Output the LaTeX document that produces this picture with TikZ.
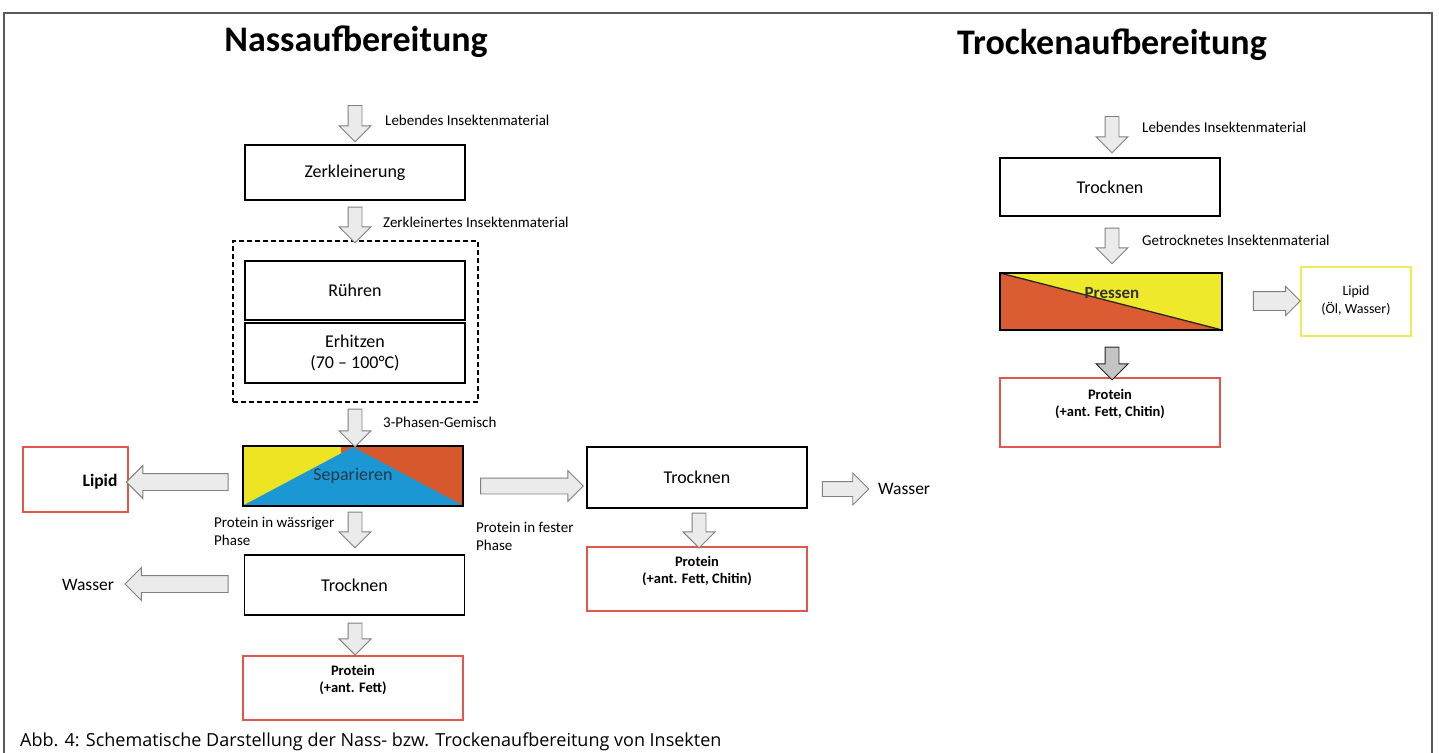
\documentclass[tikz,border=0pt]{standalone}
\usepackage{fontspec}
\setmainfont{Carlito}
\newfontfamily\capfont{Open Sans}
\usetikzlibrary{shapes.arrows,calc}
\definecolor{arrfill}{HTML}{EBEBEB}
\definecolor{arrdraw}{HTML}{808080}
\definecolor{arrdark}{HTML}{C4C4C4}
\definecolor{protred}{HTML}{E2574C}
\definecolor{lipyel}{HTML}{EFEA55}
\definecolor{sepyel}{HTML}{EDE524}
\definecolor{sepred}{HTML}{D8582E}
\definecolor{sepblue}{HTML}{1B98D4}
\definecolor{septext}{HTML}{213A4B}
\definecolor{presred}{HTML}{DB5B33}
\definecolor{presyel}{HTML}{EEE92B}
\definecolor{framegray}{HTML}{5A5A5A}
\newcommand{\barrow}[3][]{\path let \p1=(#2), \p2=(#3), \n1={atan2(\y2-\y1,\x2-\x1)}, \n2={veclen(\x2-\x1,\y2-\y1)} in node[barr, minimum height=\n2, rotate=\n1, #1] at ($(#2)!0.5!(#3)$) {};}
\begin{document}
\begin{tikzpicture}[x=1pt,y=-1pt,
  box/.style={draw=black, line width=1.4pt, minimum width=220pt, minimum height=60pt, inner sep=0pt, font=\fontsize{18}{21}\selectfont, align=center},
  redbox/.style={draw=protred, line width=1.2pt, inner sep=0pt},
  lab/.style={font=\fontsize{15}{18}\selectfont, anchor=west, inner sep=0pt, align=left},
  prot/.style={font=\bfseries\fontsize{14.5}{17}\selectfont, align=center, inner sep=0pt},
  title/.style={font=\bfseries\fontsize{36}{40}\selectfont, inner sep=0pt},
  barr/.style={single arrow, draw=arrdraw, fill=arrfill, line width=0.9pt, single arrow head indent=0pt, single arrow head extend=9pt, inner xsep=0pt, inner ysep=6.5pt},
  harr/.style={inner ysep=8pt, single arrow head extend=8pt},
  darr/.style={draw=black!85, fill=arrdark}]
\useasboundingbox (0,0) rectangle (1439,752);
\draw[framegray, line width=1.3pt] (4,770) -- (4,13) -- (1432,13) -- (1432,770);

% titles
\node[title] (t1) at (356,42) {Nassaufbereitung};
\node[title] (t2) at (1112,45) {Trockenaufbereitung};

% ---------- Nassaufbereitung ----------
\node[box, minimum height=55pt] (zerk) at (355,172.5) {Zerkleinerung};
\node[draw, line width=1.4pt, dash pattern=on 5pt off 3pt, minimum width=245pt, minimum height=161pt, inner sep=0pt] (mix) at (355.5,321.5) {};
\node[box, minimum height=59pt] (ruehr) at (355,290.5) {Rühren};
\node[box] (erh) at (355,353) {Erhitzen\\(70 – 100°C)};

\fill[sepyel] (243,446) rectangle (341,506);
\fill[sepred] (341,446) rectangle (463,506);
\fill[sepblue] (244,505) -- (353,447) -- (462,505) -- cycle;
\node[box, text=septext] (sep) at (353,476) {Separieren};

\node[redbox, minimum width=105pt, minimum height=65pt] (lipL) at (75.5,479.5) {};
\node[font=\bfseries\fontsize{17.5}{20}\selectfont, inner sep=0pt] (lipLt) at (100,482) {Lipid};

\node[box, minimum height=61pt] (trR) at (697,477.5) {Trocknen};
\node[redbox, minimum width=220pt, minimum height=64pt] (prR) at (697,579) {};
\node[prot] (prRt) at (697,571.5) {Protein\\(+ant. Fett, Chitin)};
\node[font=\fontsize{17.5}{20}\selectfont, anchor=west, inner sep=0pt] (wR) at (878,489) {Wasser};

\node[box] (trL) at (354.5,585) {Trocknen};
\node[font=\fontsize{17.5}{20}\selectfont, inner sep=0pt] (wL) at (88,585) {Wasser};
\node[redbox, minimum width=220pt, minimum height=64pt] (prL) at (353,688) {};
\node[prot] (prLt) at (353,680) {Protein\\(+ant. Fett)};

\node[lab] (l1) at (385,120) {Lebendes Insektenmaterial};
\node[lab] (l2) at (383,222) {Zerkleinertes Insektenmaterial};
\node[lab] (l3) at (383,422) {3-Phasen-Gemisch};
\node[lab] (l4) at (214,531) {Protein in wässriger\\Phase};
\node[lab] (l5) at (476,536) {Protein in fester\\Phase};

% arrows left
\coordinate (a1s) at (355,102);
\coordinate (a1e) at ($(zerk.north)+(0,-6)$);
\barrow{a1s}{a1e}
\coordinate (a2s) at ($(zerk.south)+(0,3)$);
\coordinate (a2e) at ($(mix.north)+(-0.5,-1)$);
\barrow{a2s}{a2e}
\coordinate (a3s) at ($(mix.south)+(-0.5,3)$);
\coordinate (a3e) at ($(sep.north)+(2,-2)$);
\barrow{a3s}{a3e}
\coordinate (a4s) at ($(sep.west)+(-10,6)$);
\coordinate (a4e) at ($(lipL.east |- a4s)+(2,0)$);
\barrow[harr]{a4s}{a4e}
\coordinate (a5s) at ($(sep.east)+(13,10)$);
\coordinate (a5e) at ($(trR.west |- a5s)+(-7,0)$);
\barrow[inner ysep=7.5pt, single arrow head extend=7.5pt]{a5s}{a5e}
\coordinate (a6s) at ($(trR.east)+(11,11.5)$);
\coordinate (a6e) at ($(wR.west |- a6s)+(-13,0)$);
\barrow[inner ysep=7pt, single arrow head extend=8.5pt]{a6s}{a6e}
\coordinate (a7s) at ($(trR.south)+(2,1)$);
\coordinate (a7e) at ($(a7s |- prR.north)+(0,-2)$);
\barrow{a7s}{a7e}
\coordinate (a8s) at ($(sep.south)+(2,2)$);
\coordinate (a8e) at ($(a8s |- trL.north)+(0,-10)$);
\barrow{a8s}{a8e}
\coordinate (a9s) at ($(trL.west)+(-11.5,-1)$);
\coordinate (a9e) at ($(wL.east |- a9s)+(15,0)$);
\barrow[harr]{a9s}{a9e}
\coordinate (a10s) at ($(trL.south)+(0.5,4)$);
\coordinate (a10e) at ($(a10s |- prL.north)+(0,-4)$);
\barrow{a10s}{a10e}

% ---------- Trockenaufbereitung ----------
\node[box, minimum height=58pt] (trT) at (1110,187) {Trocknen};
\fill[presyel] (1000,273) rectangle (1222,330);
\fill[presred] (1000,273) -- (1222,330) -- (1000,330) -- cycle;
\draw[line width=1.3pt, black!85] (1000,273) -- (1222,330);
\node[box, minimum width=222pt, minimum height=57pt] (pres) at (1111,301.5) {};
\node[font=\bfseries\fontsize{17}{20}\selectfont, text=black!80, inner sep=0pt] (prest) at (1112,293) {Pressen};
\node[draw=lipyel, line width=1.2pt, minimum width=110pt, minimum height=69pt, inner sep=0pt] (lipR) at (1356,301.5) {};
\node[font=\fontsize{14}{18}\selectfont, align=center, inner sep=0pt] (lipRt) at (1356,301) {Lipid\\(Öl, Wasser)};
\node[redbox, minimum width=220pt, minimum height=69pt] (prTR) at (1110,412.5) {};
\node[prot] (prTRt) at (1110,404) {Protein\\(+ant. Fett, Chitin)};

\node[lab] (r1l) at (1142,127) {Lebendes Insektenmaterial};
\node[lab] (r2l) at (1142,240) {Getrocknetes Insektenmaterial};

\coordinate (r1s) at (1112,113);
\coordinate (r1e) at ($(r1s |- trT.north)+(0,-8)$);
\barrow{r1s}{r1e}
\coordinate (r2s) at ($(trT.south)+(2,8)$);
\coordinate (r2e) at ($(r2s |- pres.north)+(0,-12)$);
\barrow{r2s}{r2e}
\coordinate (r3s) at ($(pres.east)+(26,-0.5)$);
\coordinate (r3e) at ($(lipR.west |- r3s)+(-5,0)$);
\barrow[inner ysep=9pt, single arrow head extend=5pt]{r3s}{r3e}
\coordinate (r4s) at ($(pres.south)+(1,13)$);
\coordinate (r4e) at ($(r4s |- prTR.north)+(0,-1)$);
\barrow[darr]{r4s}{r4e}

% caption
\node[font=\capfont\fontsize{18}{22}\selectfont, anchor=base west, inner sep=0pt] (cap) at (20,746) {Abb. 4: Schematische Darstellung der Nass- bzw. Trockenaufbereitung von Insekten};
\end{tikzpicture}
\end{document}
